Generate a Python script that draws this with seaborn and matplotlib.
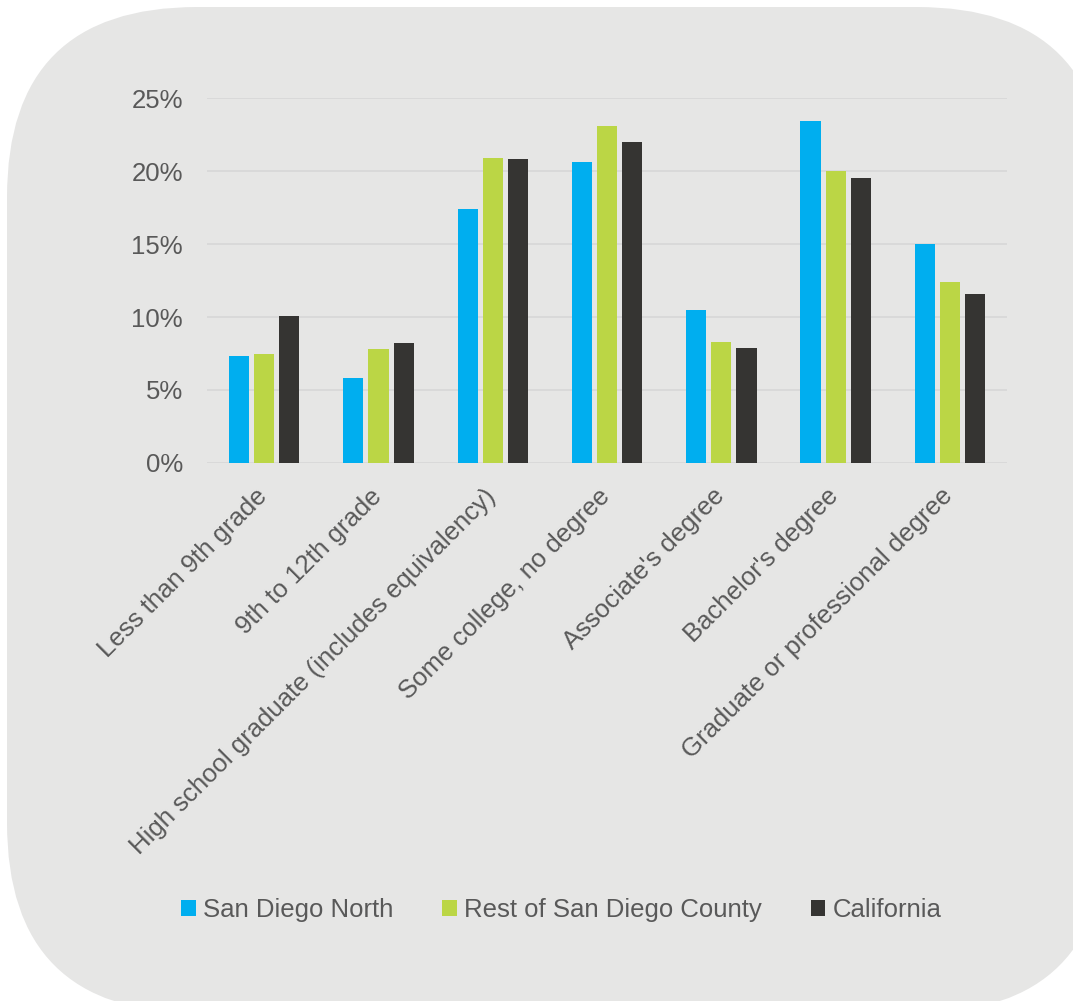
import pandas as pd
import seaborn as sns
import matplotlib.pyplot as plt
from matplotlib.patches import FancyBboxPatch
from matplotlib.transforms import IdentityTransform, ScaledTranslation
from matplotlib.ticker import FuncFormatter

# Données (part de la population 25+ par niveau d'études, en %)
categories = ["Less than 9th grade", "9th to 12th grade",
              "High school graduate (includes equivalency)",
              "Some college, no degree", "Associate's degree",
              "Bachelor's degree", "Graduate or professional degree"]
regions = ["San Diego North", "Rest of San Diego County", "California"]
sd_north = [7.3, 5.8, 17.4, 20.6, 10.5, 23.4, 15.0]
rest_sd = [7.5, 7.8, 20.9, 23.1, 8.3, 20.0, 12.4]
california = [10.1, 8.2, 20.8, 22.0, 7.9, 19.5, 11.6]
colors = ["#00AEEF", "#BBD645", "#353432"]

df = pd.DataFrame({"Category": categories * 3,
                   "Region": [regions[0]] * 7 + [regions[1]] * 7 + [regions[2]] * 7,
                   "Value": sd_north + rest_sd + california})

sns.set_style("white")
plt.rcParams['font.family'] = ['Liberation Sans', 'DejaVu Sans']
txt = "#595959"

fig = plt.figure(figsize=(10.73, 10.01), dpi=100)
fig.patch.set_facecolor("white")
# fond gris arrondi (en pixels)
bg = FancyBboxPatch((7, -12), 1100, 1006, boxstyle="round,pad=0,rounding_size=190",
                    transform=IdentityTransform(), facecolor="#E6E6E5",
                    edgecolor="none", zorder=-5)
fig.patches.append(bg)

ax = fig.add_axes([0.193, 0.5375, 0.7455, 0.3645])
ax.set_facecolor("none")
sns.barplot(data=df, x="Category", y="Value", hue="Region", palette=colors,
            order=categories, hue_order=regions, width=0.66, gap=0.2,
            saturation=1, edgecolor="none", ax=ax, legend=True)

ax.set_ylim(0, 25)
ax.set_yticks([0, 5, 10, 15, 20, 25])
ax.yaxis.set_major_formatter(FuncFormatter(lambda v, p: f"{v:.0f}%"))
ax.grid(axis="y", color="#D9D9D9", linewidth=1.4)
ax.set_axisbelow(True)
for s in ax.spines.values():
    s.set_visible(False)
ax.set_xlabel("")
ax.set_ylabel("")
ax.tick_params(axis="both", length=0, labelsize=18.5, colors=txt, pad=8)
ax.tick_params(axis="y", pad=17.5)
plt.setp(ax.get_xticklabels(), rotation=45, ha="right", rotation_mode="anchor")
# petit décalage des étiquettes vers le bas-gauche
shift = ScaledTranslation(-9 / 100, -10 / 100, fig.dpi_scale_trans)
for lab in ax.get_xticklabels():
    lab.set_transform(lab.get_transform() + shift)

ax.legend(loc="center", bbox_to_anchor=(0.443, -1.225), ncol=3, frameon=False,
          fontsize=18.5, labelcolor=txt, handlelength=0.55, handleheight=0.55,
          handletextpad=0.3, columnspacing=1.9)

fig.savefig("out.png", dpi=100)
